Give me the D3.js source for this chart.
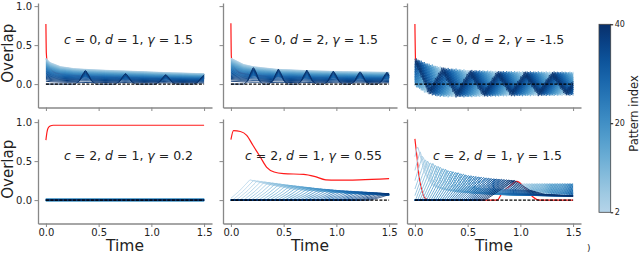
<!DOCTYPE html>
<html>
<head>
<meta charset="utf-8">
<script src="https://cdn.jsdelivr.net/npm/d3@7"></script>
<style>
  body { margin: 0; background: #fff; }
  text { font-family: "DejaVu Sans", sans-serif; fill: #222; }
</style>
</head>
<body>
<svg id="fig" width="640" height="253"></svg>
<script>
// ---- data ----
var patterns = d3.range(2, 41);          // pattern index 2..40 (blue lines)
var xTicks = [0, 0.5, 1, 1.5];
var yTicks = [0, 0.5, 1];
var cbTicks = [2, 20, 40];
var params = [["0", "1", "1.5"], ["0", "2", "1.5"], ["0", "2", "-1.5"],
              ["2", "1", "0.2"], ["2", "1", "0.55"], ["2", "1", "1.5"]];

// red line = pattern 1, [time, overlap]
var red1 = [[0, 0.77], [0.004, 0.40], [0.015, 0.26], [0.1, 0.14], [0.4, 0.1], [1.5, 0.07]];
var red2 = [[0, 0.78], [0.004, 0.36], [0.015, 0.25], [0.1, 0.14], [0.4, 0.1], [1.5, 0.08]];
var red3 = [[0, 0.77], [0.006, 0.3], [0.02, 0.17], [0.05, 0.14]];
var red4 = [[0, 0.77], [0.01, 0.87], [0.02, 0.92], [0.04, 0.95], [0.07, 0.96], [1.5, 0.96]];
var red5 = [[0, 0.776], [0.025, 0.89], [0.09, 0.88], [0.15, 0.83], [0.21, 0.7], [0.28, 0.55], [0.34, 0.42],
            [0.41, 0.36], [0.5, 0.34], [0.69, 0.33], [0.79, 0.305], [0.9, 0.26], [1.0, 0.255], [1.22, 0.26], [1.5, 0.275]];
var red6 = [[0, 0.785], [0.02, 0.55], [0.04, 0.3], [0.07, 0.1], [0.1, 0.02], [0.15, 0], [0.78, 0], [0.83, 0.1],
            [0.9, 0.18], [0.965, 0.24], [1.05, 0.15], [1.12, 0.04], [1.18, 0], [1.5, 0]];

// panel 1 / 2: upper edge of the blue band and the dark bumps
var top1T = [0, 0.04, 0.14, 0.26, 0.36, 0.58, 0.87, 1.14, 1.5];
var top1V = [0.35, 0.29, 0.235, 0.21, 0.2, 0.185, 0.17, 0.155, 0.14];
var bump1T = [0.375, 0.755, 1.136, 1.5];
var bump1V = [0.18, 0.14, 0.125, 0.12];
var top2T = [0, 0.12, 0.21, 0.43, 0.75, 1.07, 1.5];
var top2V = [0.35, 0.265, 0.235, 0.2, 0.18, 0.167, 0.158];
var bump2T = [0.214, 0.451, 0.72, 0.972, 1.225, 1.479];
var bump2V = [0.22, 0.195, 0.18, 0.17, 0.163, 0.155];
var bumpShape = [[-1, -0.6, -0.3, 0, 0.3, 0.6, 1], [0, 0.2, 0.65, 1, 0.65, 0.2, 0]];

// panel 3: band edges, oscillation period of the lattice, fine zigzag
var edge3T = [0, 0.1, 0.2, 0.3, 0.5, 0.8, 1.1, 1.5];
var top3V = [0.34, 0.28, 0.24, 0.21, 0.185, 0.17, 0.165, 0.16];
var bot3V = [-0.03, -0.12, -0.16, -0.17, -0.17, -0.16, -0.155, -0.15];
var period3 = 0.26;
var zig3Amp = 0.035;

// panel 4: tiny offsets around zero
var flat4 = [0.018, -0.012];

// panel 5: peak times of first/last pattern, peak heights, bump profile
var peak5 = [0.18, 1.52];
var h5T = [0.18, 0.5, 0.8, 1.0, 1.3, 1.52];
var h5V = [0.26, 0.2, 0.15, 0.125, 0.1, 0.08];
var shape5D = [-0.2, -0.1, 0, 0.15, 0.4, 0.8, 1.4];
var shape5V = [0, 0.45, 1, 0.8, 0.55, 0.4, 0.3];

// panel 6: peak times, heights, widths, bump profile, second cycle
var peak6 = [0.025, 0.94];
var cycle6 = 0.965;
var h6T = [0, 0.05, 0.1, 0.2, 0.3, 0.5, 0.7, 0.96];
var h6V = [0.78, 0.62, 0.52, 0.45, 0.39, 0.32, 0.28, 0.25];
var w6T = [0, 0.5, 1, 2];
var w6V = [0.11, 0.17, 0.26, 0.28];
var shape6D = [-1.1, -0.6, 0, 0.6, 1.2, 2.5];
var shape6V = [0, 0.45, 1, 0.5, 0.28, 0.2];
var h6second = 0.21;

// ---- layout ----
var svg = d3.select("#fig");
var colX = [38, 223, 407], rowY = [3, 119];
var pw = 174, ph = 104.5;
var tGrid = d3.range(0, 1.5001, 0.01);

function lin(d, r) { return d3.scaleLinear().domain(d).range(r).clamp(true); }
function shade(k) { return d3.interpolateBlues(0.3 + 0.7 * (k - 2) / 38); }

function waveLines(topT, topV, bT, bV, half) {
  var top = lin(topT, topV), bs = lin(bumpShape[0], bumpShape[1]);
  return patterns.map(function (k) {
    var f = (k - 2) / 38;
    var w = k % 2 === 0 ? Math.max(0, (f - 0.3) / 0.7) : 0;   // every other dark line bumps
    var lvl = 0.95 * Math.pow(1 - f, 0.6);
    return tGrid.map(function (t) {
      var b = 0;
      bT.forEach(function (c, i) { b = Math.max(b, bV[i] * bs((t - c) / half)); });
      return [t, Math.max(top(t) * lvl, b * w)];
    });
  });
}

var t3 = d3.range(0, 1.5001, 0.015);
var top3 = lin(edge3T, top3V), bot3 = lin(edge3T, bot3V);
var tri3 = lin([0, 0.5, 1], [1, -1, 1]);
function osc3(f, k) {
  return t3.map(function (t, i) {
    var c = (top3(t) + bot3(t)) / 2, hw = (top3(t) - bot3(t)) / 2 - zig3Amp;
    var ph3 = ((t / period3 + f) % 1 + 1) % 1;
    var s = (i + k) % 2 ? 1 : -1;
    return [t, c + hw * tri3(ph3) + s * zig3Amp];
  });
}

var lines5 = (function () {
  var tau = lin([2, 40], peak5), h = lin(h5T, h5V), sh = lin(shape5D, shape5V);
  return patterns.map(function (k) {
    var tk = tau(k), hk = h(tk);
    return tGrid.map(function (t) { return [t, hk * sh(t - tk)]; });
  });
})();

var lines6 = (function () {
  var tau = lin([2, 40], peak6), h = lin(h6T, h6V), wid = lin(w6T, w6V);
  var sh = lin(shape6D, shape6V), sh2 = lin(shape6D.slice(0, 5), [0, 0.45, 1, 0.45, 0]);
  return patterns.map(function (k) {
    var a = tau(k), b = a + cycle6, ha = h(a);
    return tGrid.map(function (t) {
      return [t, Math.max(ha * sh((t - a) / wid(a)), h6second * sh2((t - b) / wid(b)))];
    });
  });
})();

var panels = [
  { red: red1, lines: waveLines(top1T, top1V, bump1T, bump1V, 0.1), w: 1 },
  { red: red2, lines: waveLines(top2T, top2V, bump2T, bump2V, 0.09), w: 1 },
  { red: red3, lines: patterns.map(function (k) { return osc3((k - 2) / 38, k); }), w: 0.7 },
  { red: red4, lines: patterns.map(function (k) { var v = flat4[k % 2] * (1 - (k - 2) / 38); return [[0, v], [1.5, v]]; }), w: 0.8 },
  { red: red5, lines: lines5, w: 0.85 },
  { red: red6, lines: lines6, w: 1 }
];

panels.forEach(function (p, i) {
  var r = Math.floor(i / 3), c = i % 3;
  var x0 = colX[c], y0 = rowY[r];
  var x = d3.scaleLinear().domain([-0.075, 1.575]).range([x0, x0 + pw]);
  var y = d3.scaleLinear().domain([-0.3, 1.04]).range([y0 + ph, y0]);
  var line = d3.line().x(function (d) { return x(d[0]); }).y(function (d) { return y(d[1]); });
  var g = svg.append("g");

  g.append("path").datum(p.red).attr("d", line.curve(d3.curveMonotoneX))
    .attr("fill", "none").attr("stroke", "#ff1a1a").attr("stroke-width", 1.2);
  line.curve(d3.curveLinear);
  g.selectAll(".pat").data(p.lines).enter().append("path")
    .attr("d", line)
    .attr("fill", "none")
    .attr("stroke", function (d, j) { return shade(patterns[j]); })
    .attr("stroke-width", p.w);

  g.append("line")
    .attr("x1", x(0)).attr("x2", x(1.5)).attr("y1", y(0)).attr("y2", y(0))
    .attr("stroke", "#000").attr("stroke-width", 1.1).attr("stroke-dasharray", "3,1.5");

  // axes
  var ya = d3.axisLeft(y).tickValues(yTicks).tickSize(3.5).tickSizeOuter(0).tickPadding(2.5)
    .tickFormat(c === 0 ? d3.format(".1f") : "");
  var xa = d3.axisBottom(x).tickValues(xTicks).tickSize(3.5).tickSizeOuter(0).tickPadding(1.5)
    .tickFormat(r === 1 ? d3.format(".1f") : "");
  var gy = g.append("g").attr("transform", "translate(" + x0 + ",0)").call(ya);
  var gx = g.append("g").attr("transform", "translate(0," + (y0 + ph) + ")").call(xa);
  [gx, gy].forEach(function (a) {
    a.selectAll(".domain").attr("stroke", "#888").attr("stroke-width", 1.3);
    a.selectAll(".tick line").attr("stroke", "#888");
    a.selectAll("text").attr("fill", "#222").style("font-family", "DejaVu Sans").attr("font-size", 10);
  });

  // annotation
  var t = g.append("text").attr("x", x(0.783)).attr("y", y(0.51))
    .attr("text-anchor", "middle").attr("font-size", 12.5);
  t.append("tspan").attr("font-style", "italic").text("c");
  t.append("tspan").text(" = " + params[i][0] + ", ");
  t.append("tspan").attr("font-style", "italic").text("d");
  t.append("tspan").text(" = " + params[i][1] + ", ");
  t.append("tspan").attr("font-style", "italic").text("γ");
  t.append("tspan").text(" = " + params[i][2]);

  if (c === 0) {
    g.append("text").attr("transform", "translate(13," + (y0 + ph / 2 - 2) + ")rotate(-90)")
      .attr("text-anchor", "middle").attr("font-size", 15).text("Overlap");
  }
  if (r === 1) {
    g.append("text").attr("x", x0 + pw / 2).attr("y", 250.5)
      .attr("text-anchor", "middle").attr("font-size", 15.5).text("Time");
  }
});

// colorbar
var grad = svg.append("defs").append("linearGradient").attr("id", "cb")
  .attr("x1", 0).attr("y1", 1).attr("x2", 0).attr("y2", 0);
d3.range(0, 1.0001, 0.1).forEach(function (s) {
  grad.append("stop").attr("offset", s).attr("stop-color", d3.interpolateBlues(0.3 + 0.7 * s));
});
var cb = d3.scaleLinear().domain([2, 40]).range([212.3, 24.3]);
svg.append("rect").attr("x", 599).attr("y", cb(40)).attr("width", 11.7).attr("height", cb(2) - cb(40))
  .attr("fill", "url(#cb)").attr("stroke", "#444").attr("stroke-width", 0.8);
var gc = svg.append("g").attr("transform", "translate(610.7,0)")
  .call(d3.axisRight(cb).tickValues(cbTicks).tickSize(2.5).tickPadding(1.5));
gc.select(".domain").remove();
gc.selectAll("text").attr("fill", "#222").style("font-family", "DejaVu Sans").attr("font-size", 8);
svg.append("text").attr("transform", "translate(638,113.5)rotate(-90)")
  .attr("text-anchor", "middle").attr("font-size", 11.5).text("Pattern index");
svg.append("text").attr("x", 587).attr("y", 251).attr("font-size", 9).attr("fill", "#444").text(")");
</script>
</body>
</html>
